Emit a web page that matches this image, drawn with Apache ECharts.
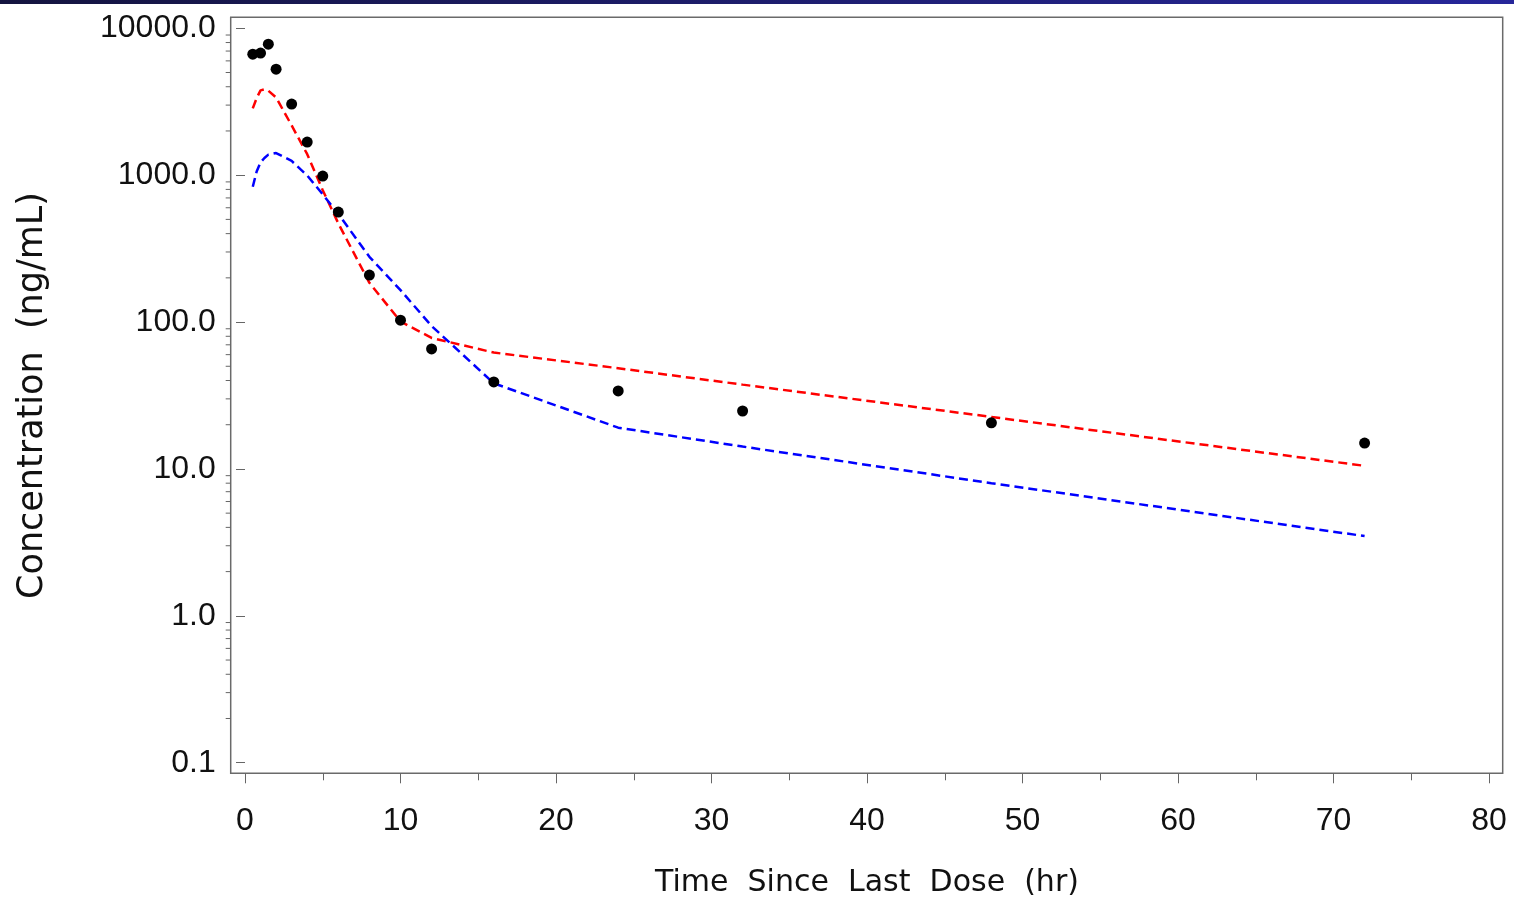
<!DOCTYPE html>
<html>
<head>
<meta charset="utf-8">
<title>Concentration vs Time Since Last Dose</title>
<script src="https://cdn.jsdelivr.net/npm/echarts@6/dist/echarts.min.js"></script>
<style>
    html, body { margin: 0; padding: 0; background: #fff; }
    #main { width: 1514px; height: 902px; }
</style>
</head>
<body>
<div id="main"></div>
<script>
// observed concentrations (black dots)
var obsTime = [0.5, 1, 1.5, 2, 3, 4, 5, 6, 8, 10, 12, 16, 24, 32, 48, 72];
var obsConc = [6670, 6780, 7800, 5270, 3050, 1680, 986, 561, 209, 103, 65.6, 39.1, 34.0, 24.8, 20.6, 15.0];

// predicted curves (dashed)
var predTime = [0.5, 0.75, 1, 1.25, 1.5, 2, 3, 4, 5, 6, 8, 10, 12, 16, 24, 32, 48, 72];
var redConc = [2850, 3350, 3780, 3840, 3760, 3380, 2180, 1390, 790, 470, 185, 101, 78, 62, 48.5, 37.5, 22.6, 10.5];
var blueConc = [834, 1060, 1220, 1310, 1380, 1415, 1250, 995, 740, 545, 278, 165, 94, 38.3, 19.1, 14.2, 8.0, 3.49];

// axes
var xTicks = [0, 10, 20, 30, 40, 50, 60, 70, 80];
var yDecades = [0.1, 1, 10, 100, 1000];
var yMinorSteps = [2, 3, 4, 5, 6, 7, 8, 9];

var X_OFFSET = 10.6;   // frame sits a bit outside the data range
var Y_OFFSET = 14.3;

function pairs(xs, ys) {
    var out = [];
    for (var i = 0; i < xs.length; i++) {
        out.push([xs[i], ys[i]]);
    }
    return out;
}

function minorTickData() {
    var out = [];
    yDecades.forEach(function (d) {
        yMinorSteps.forEach(function (s) {
            out.push([0, +(d * s).toPrecision(3)]);
        });
    });
    return out;
}

// log axis minor ticks at 2..9 of each decade
function minorTickItem(params, api) {
    var y = api.coord([0, api.value(1)])[1];
    var x = params.coordSys.x - Y_OFFSET;
    return {
        type: 'line',
        shape: {x1: x - 5, y1: y, x2: x, y2: y},
        style: {stroke: '#666', lineWidth: 1}
    };
}

function init() {
    var chart = echarts.init(document.getElementById('main'));
    var option = {
        backgroundColor: '#fff',
        animation: false,
        grid: {left: 245, right: 25, top: 28.3, bottom: 139.3, outerBoundsMode: 'none'},
        graphic: [
            {
                type: 'rect',
                shape: {x: 0, y: 0, width: 1514, height: 4},
                style: {
                    fill: new echarts.graphic.LinearGradient(0, 0, 1, 0, [
                        {offset: 0, color: '#14143f'},
                        {offset: 1, color: '#26269a'}
                    ])
                }
            },
            {
                type: 'rect',
                shape: {x: 230.7, y: 17.3, width: 1272, height: 756},
                style: {fill: 'none', stroke: '#6a6a6a', lineWidth: 1.5}
            }
        ],
        xAxis: {
            type: 'value',
            min: xTicks[0],
            max: xTicks[xTicks.length - 1],
            interval: 10,
            offset: X_OFFSET,
            name: 'Time  Since  Last  Dose  (hr)',
            nameLocation: 'middle',
            nameGap: 95,
            nameTextStyle: {fontFamily: 'DejaVu Sans', fontSize: 30, color: '#111'},
            axisLine: {show: false},
            axisTick: {show: true, length: 10, lineStyle: {color: '#666', width: 1}},
            minorTick: {show: true, splitNumber: 2, length: 7, lineStyle: {color: '#666', width: 1}},
            splitLine: {show: false},
            axisLabel: {
                margin: 32,
                fontFamily: 'Liberation Sans',
                fontSize: 32,
                color: '#111'
            }
        },
        yAxis: {
            type: 'log',
            logBase: 10,
            min: yDecades[0],
            max: 10000,
            offset: Y_OFFSET,
            name: 'Concentration  (ng/mL)',
            nameLocation: 'middle',
            nameGap: 180,
            nameTextStyle: {fontFamily: 'DejaVu Sans', fontSize: 35, color: '#111'},
            axisLine: {show: false},
            axisTick: {show: true, length: 9, lineStyle: {color: '#666', width: 1}},
            splitLine: {show: false},
            axisLabel: {
                margin: 15,
                fontFamily: 'Liberation Sans',
                fontSize: 32,
                color: '#111',
                formatter: function (v) {
                    return Number(v).toFixed(1);
                }
            }
        },
        series: [
            {
                type: 'custom',
                silent: true,
                clip: false,
                renderItem: minorTickItem,
                data: minorTickData()
            },
            {
                name: 'red',
                type: 'line',
                showSymbol: false,
                data: pairs(predTime, redConc),
                lineStyle: {color: '#ff0000', width: 2.5, type: [9, 5]}
            },
            {
                name: 'blue',
                type: 'line',
                showSymbol: false,
                data: pairs(predTime, blueConc),
                lineStyle: {color: '#0000ff', width: 2.5, type: [9, 5]}
            },
            {
                name: 'observed',
                type: 'scatter',
                symbol: 'circle',
                symbolSize: 11,
                data: pairs(obsTime, obsConc),
                itemStyle: {color: '#000', opacity: 1},
                z: 5
            }
        ]
    };
    chart.setOption(option);
}

init();
</script>
</body>
</html>
